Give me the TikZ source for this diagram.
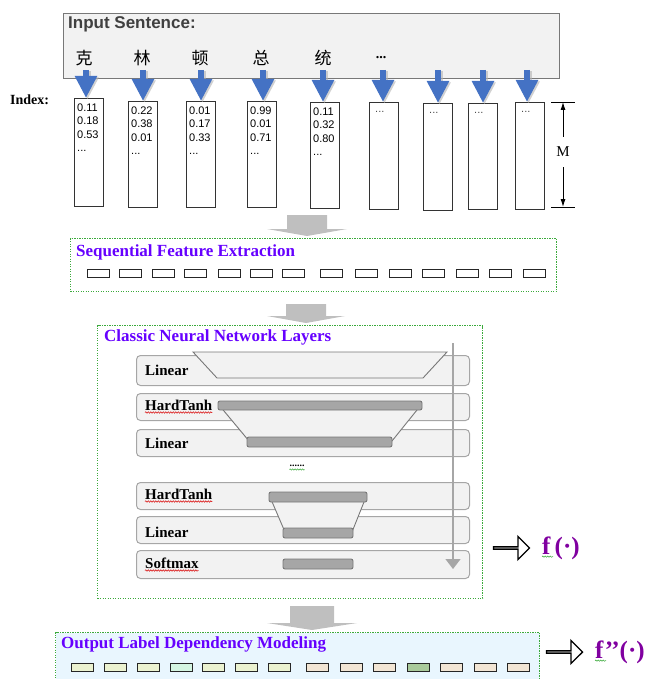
\documentclass[tikz,border=0pt]{standalone}
\usepackage{fontspec}
\setmainfont{Liberation Serif}
\newfontfamily\arialfont{Liberation Sans}
\newfontfamily\cjk{Noto Sans CJK SC}
\usetikzlibrary{arrows.meta,shapes.arrows,decorations.pathmorphing}
\definecolor{boxgray}{RGB}{242,242,242}
\definecolor{linegray}{RGB}{120,120,120}
\definecolor{bargray}{RGB}{166,166,166}
\definecolor{blockgray}{RGB}{191,191,191}
\definecolor{arrowblue}{RGB}{68,114,196}
\definecolor{dotgreen}{RGB}{60,170,60}
\definecolor{titleblue}{RGB}{102,0,255}
\definecolor{fpurple}{RGB}{128,0,160}
\definecolor{outblue}{RGB}{233,246,254}
\definecolor{lime}{RGB}{235,242,208}
\definecolor{mint}{RGB}{212,245,226}
\definecolor{beige}{RGB}{242,229,212}
\definecolor{sage}{RGB}{169,202,155}
\tikzset{
  idxbox/.style={draw=black!80, line width=0.8pt, minimum width=29pt, inner sep=0pt, anchor=north west},
  nums/.style={font=\arialfont\fontsize{11}{13.5}\selectfont, align=left, anchor=north west, inner sep=0pt},
  bluearrow/.style={arrowblue, line width=6pt, -{Triangle[length=22pt,width=21pt]}},
  arrowshade/.style={black!30, opacity=0.6, line width=6pt, -{Triangle[length=22pt,width=21pt]},
    transform canvas={xshift=1.5pt,yshift=-1.5pt}},
  blockarrow/.style={fill=blockgray},
  dotbox/.style={draw=dotgreen, line width=1.2pt, dash pattern=on 1.2pt off 1.3pt, anchor=north west, inner sep=0pt},
  title/.style={text=titleblue, font=\fontsize{17}{18}\selectfont\bfseries, anchor=base west, inner sep=0pt},
  cell/.style={draw=black!85, line width=0.9pt, minimum width=22pt, minimum height=8pt, inner sep=0pt, anchor=north west},
  layer/.style={draw=bargray, fill=boxgray, line width=1pt, rounded corners=4pt, minimum width=333pt, inner sep=0pt, anchor=north west},
  layername/.style={font=\fontsize{15}{15}\selectfont\bfseries, anchor=base west, inner sep=0pt},
  funnel/.style={draw=linegray, fill=boxgray, line width=0.9pt},
  bar/.style={draw=linegray, fill=bargray, line width=0.9pt, rounded corners=2pt},
  hollow/.style={single arrow, draw=black, fill=white, line width=1.3pt, minimum height=36pt, minimum width=23pt,
    single arrow head extend=6pt, single arrow head indent=0pt, inner sep=0pt},
  ftext/.style={text=fpurple, font=\fontsize{25}{25}\selectfont\bfseries, anchor=west, inner sep=0pt},
  redwave/.style={draw=red!85!black, line width=0.5pt, decorate, decoration={snake, amplitude=0.7pt, segment length=2.5pt}},
  greenwave/.style={draw=dotgreen, line width=0.5pt, decorate, decoration={snake, amplitude=0.7pt, segment length=2.5pt}}
}
\begin{document}
\begin{tikzpicture}[x=1pt,y=-1pt]
\useasboundingbox (0,0) rectangle (651,679);
\clip (0,0) rectangle (651,679);
\node[draw=linegray, fill=boxgray, line width=1pt, minimum width=496pt, minimum height=65pt,
  anchor=north west, inner sep=0pt] (input) at (63,13) {};
\node[font=\arialfont\fontsize{17}{17}\selectfont\bfseries, text=black!75, anchor=base west, inner sep=0pt] (insent) at (68,29) {Input Sentence:};
\foreach \i/\x/\t in {1/84/克,2/142/林,3/200/顿,4/261/总,5/323/统} {
  \node[font=\cjk\fontsize{17}{17}\selectfont] (C\i) at (\x,58) {\t};
}
\node[font=\bfseries\fontsize{14}{14}\selectfont] (C6) at (381,58) {...};
\foreach \i/\x in {1/86,2/143,3/201,4/263,5/323,6/383,7/438,8/483,9/527} {
  \coordinate (A\i) at (\x,70);
}
\foreach \i/\l/\t/\h in {1/74/98/108,2/128/101/106,3/186/101/106,4/247/101/106,5/310/102/106,
  6/369/102/107,7/423/103/107,8/468/103/106,9/515/102/107} {
  \node[idxbox, minimum height=\h pt] (I\i) at (\l,\t) {};
}
\foreach \i in {1,...,9} {
  \draw[arrowshade] (A\i) -- (A\i |- I\i.north);
  \draw[bluearrow] (A\i) -- (A\i |- I\i.north);
}
\foreach \i/\a/\b/\c in {1/0.11/0.18/0.53,2/0.22/0.38/0.01,3/0.01/0.17/0.33,4/0.99/0.01/0.71,5/0.11/0.32/0.80} {
  \node[nums] (N\i) at ([xshift=3pt,yshift=-5.5pt]I\i.north west) {\a\\\b\\\c\\...};
}
\foreach \i in {6,...,9} {
  \node[nums, text=black!70, anchor=base west] (D\i) at ([xshift=6pt,yshift=-11pt]I\i.north west) {...};
}
\node[font=\bfseries\fontsize{14}{14}\selectfont, anchor=base west, inner sep=0pt] (index) at (10,105) {Index:};
\coordinate (Mtop) at (563,102);
\coordinate (Mbot) at (563,207);
\node[font=\fontsize{15}{15}\selectfont, minimum height=30pt, inner sep=0pt] (M) at (563,152) {M};
\draw[line width=0.9pt] ([xshift=-12pt]Mtop) -- ([xshift=12pt]Mtop);
\draw[line width=0.9pt] ([xshift=-12pt]Mbot) -- ([xshift=12pt]Mbot);
\draw[line width=0.9pt, -{Latex[length=8pt,width=5pt]}] (M) -- (Mtop);
\draw[line width=0.9pt, -{Latex[length=8pt,width=5pt]}] (M) -- (Mbot);
\foreach \x/\y/\s/\l/\h in {307/215/20/14/40,306/304/20/12/39,312/606/22/17/45} {
  \fill[blockarrow] ({\x-\s},\y) -- ({\x+\s},\y) -- ({\x+\s},{\y+\l}) -- ({\x+\h},{\y+\l})
    -- (\x,{\y+\l+7}) -- ({\x-\h},{\y+\l}) -- ({\x-\s},{\y+\l}) -- cycle;
}
\node[dotbox, minimum width=486pt, minimum height=53pt] (seq) at (70,238) {};
\node[title] (seqtitle) at (76,256) {Sequential Feature Extraction};
\foreach \i/\x in {1/87,2/119,3/152,4/184,5/218,6/250,7/282,8/320,9/355,10/389,11/422,12/456,13/489,14/523} {
  \node[cell, fill=white] (S\i) at (\x,269) {};
}
\node[dotbox, minimum width=385pt, minimum height=273pt] (nn) at (97,325) {};
\node[title] (nntitle) at (104,341) {Classic Neural Network Layers};
\foreach \i/\t/\h/\n/\b in {1/355/30/Linear/375,2/393/27/HardTanh/410,3/429/27/Linear/448,
  4/482/27/HardTanh/499,5/516/27/Linear/537,6/550/28/Softmax/568} {
  \node[layer, minimum height=\h pt] (L\i) at (136,\t) {};
  \node[layername] (T\i) at (145,\b) {\n};
}
\draw[funnel] (193,352) -- (447,352) -- (423,378) -- (217,378) -- cycle;
\draw[funnel] (219,405) -- (421,405) -- (392,441) -- (249,441) -- cycle;
\draw[bar] (218,401) rectangle (422,410);
\draw[bar] (247,437) rectangle (392,447);
\draw[funnel] (270,497) -- (366,497) -- (352,532) -- (285,532) -- cycle;
\draw[bar] (269,492) rectangle (367,502);
\draw[bar] (283,528) rectangle (353,538);
\draw[bar] (283,559) rectangle (353,569);
\coordinate (vtop) at (453,343);
\coordinate (vbot) at (453,569);
\draw[draw=bargray, line width=1.2pt, -{Triangle[length=10pt,width=15pt]}] (vtop) -- (vbot);
\node[font=\bfseries\fontsize{10}{10}\selectfont, inner sep=0pt] (more) at (297,466) {......};
\draw[greenwave] ([yshift=-2.5pt]more.south west) -- ([yshift=-2.5pt]more.south east);
\foreach \i in {2,4,6} {
  \draw[redwave] ([yshift=-2.5pt]T\i.base west) -- ([yshift=-2.5pt]T\i.base east);
}
\node[hollow] (fa1) at (511,548) {};
\node[ftext] (f1) at (542,548) {f\,(·)};
\draw[greenwave] ([yshift=-2.5pt]f1.base west) -- ++(11,0);
\node[dotbox, fill=outblue, minimum width=484pt, minimum height=60pt] (out) at (55,632) {};
\node[title] (outtitle) at (61,648) {Output Label Dependency Modeling};
\foreach \i/\x/\c in {1/71/lime,2/104/lime,3/137/lime,4/170/mint,5/202/lime,6/235/lime,7/268/lime,
  8/306/beige,9/340/beige,10/373/beige,11/407/sage,12/440/beige,13/474/beige,14/507/beige} {
  \node[cell, fill=\c] (O\i) at (\x,663) {};
}
\node[hollow] (fa2) at (564,652) {};
\node[ftext] (f2) at (595,652) {f’’(·)};
\draw[greenwave] ([yshift=-2.5pt]f2.base west) -- ++(11,0);
\end{tikzpicture}
\end{document}
